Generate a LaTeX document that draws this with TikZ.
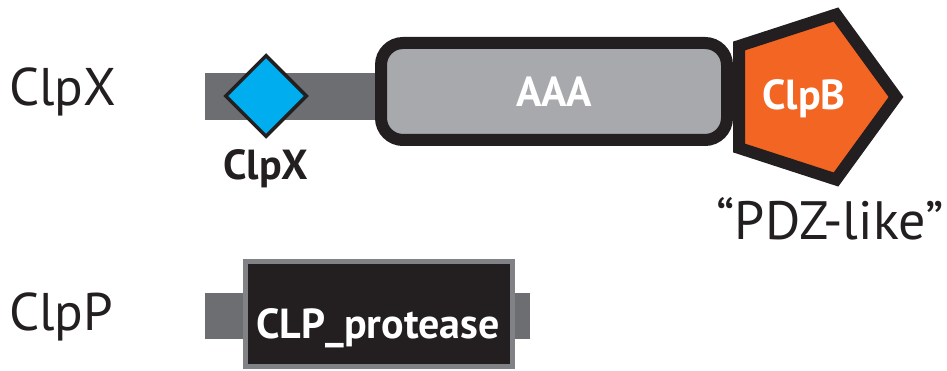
\documentclass[tikz,border=0pt]{standalone}
\usepackage{fontspec}
\setmainfont{PT Sans}
\usetikzlibrary{shapes.geometric}
\definecolor{barg}{HTML}{6D6E71}
\definecolor{clpblue}{HTML}{00AEEF}
\definecolor{aaag}{HTML}{A7A9AC}
\definecolor{ink}{HTML}{231F20}
\definecolor{clporange}{HTML}{F26522}
\definecolor{boxedge}{HTML}{808285}
\tikzset{
  rowlabel/.style={inner sep=0pt, anchor=base west, text=ink, font=\fontsize{53}{53}\selectfont},
  domlabel/.style={inner sep=0pt, anchor=base, text=white, font=\bfseries\fontsize{42}{42}\selectfont},
  linker/.style={fill=barg, draw=none},
}
\begin{document}
\begin{tikzpicture}[x=1pt,y=-1pt]
\useasboundingbox (0,0) rectangle (947,371);
% ---- ClpX row ----
\node[rowlabel] (lx) at (9,106) {ClpX};
\fill[linker] (205,73) rectangle (385,120);
\node[diamond, draw=ink, line width=3.5pt, fill=clpblue, minimum width=82pt, minimum height=82pt, inner sep=0pt, aspect=1] (dia) at (266,96) {};
\node[domlabel, text=ink] (dl) at (266,180) {ClpX};
\draw[draw=ink, fill=aaag, line width=12pt, rounded corners=22pt] (381,43) rectangle (727,140);
\node[domlabel] (aaa) at (554,107) {AAA};
\draw[draw=ink, fill=clporange, line width=12pt, line join=miter]
  (896,97) -- (836,14.5) -- (739,46) -- (739,148) -- (836,179.5) -- cycle;
\node[domlabel] (clpb) at (804,110) {ClpB};
\node[inner sep=0pt, anchor=base, text=ink, font=\fontsize{54}{54}\selectfont] (pdz) at (830,240) {“PDZ-like”};
% ---- ClpP row ----
\node[rowlabel] (lp) at (9,330) {ClpP};
\fill[linker] (205,293) rectangle (530,339);
\draw[draw=boxedge, fill=ink, line width=5pt] (245.5,261.5) rectangle (512.5,366.5);
\node[domlabel] (clpp) at (378,338) {CLP\_protease};
\end{tikzpicture}
\end{document}
